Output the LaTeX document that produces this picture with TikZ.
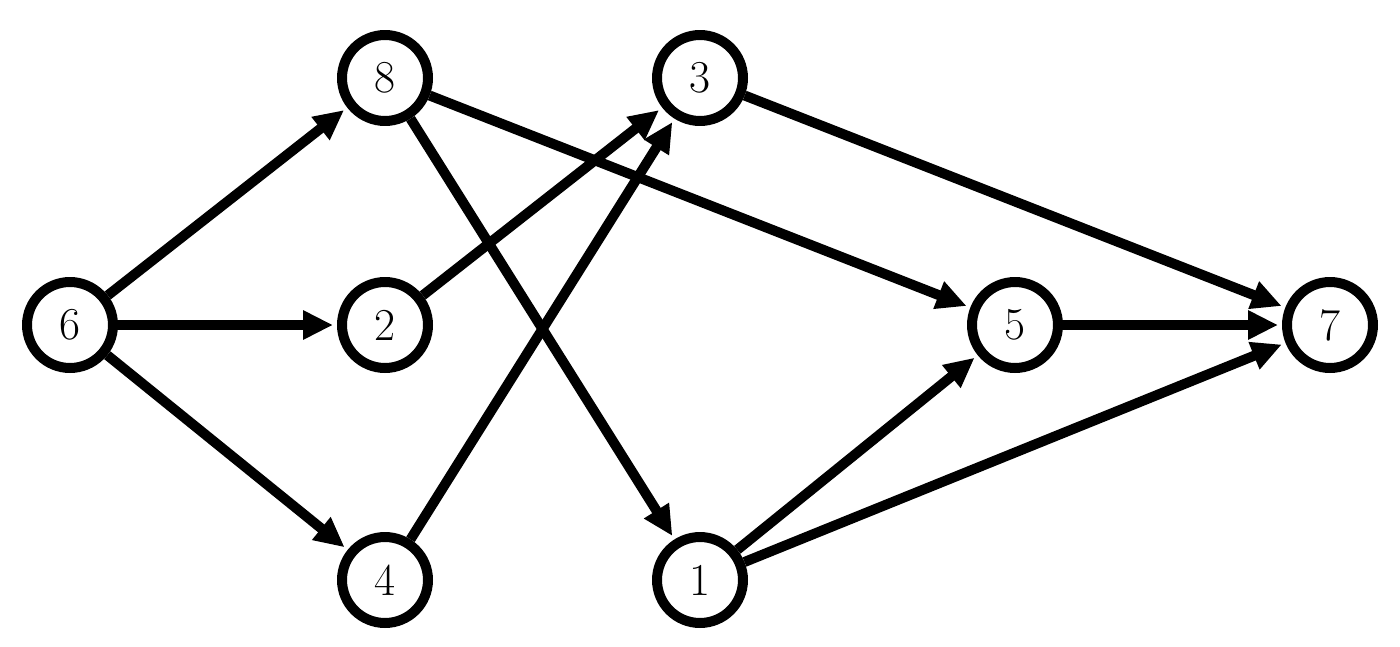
\documentclass[tikz,border=0pt]{standalone}
\usetikzlibrary{arrows.meta}
\begin{document}
\begin{tikzpicture}[x=0.02cm,y=-0.02cm,
  v/.style={circle,draw,line width=0.2cm,minimum size=1.72cm,inner sep=0pt,font=\fontsize{26}{30}\selectfont},
  e/.style={line width=0.2cm,-{Triangle[length=0.6cm,width=0.55cm]},shorten >=0.08cm}]
\useasboundingbox (0,0) rectangle (1400,646);
\node[v] (n6) at (70,325) {6};
\node[v] (n8) at (385,78) {8};
\node[v] (n2) at (385,325) {2};
\node[v] (n4) at (385,580) {4};
\node[v] (n3) at (700,78) {3};
\node[v] (n1) at (700,580) {1};
\node[v] (n5) at (1015,325) {5};
\node[v] (n7) at (1330,325) {7};
\draw[e] (n6) -- (n8);
\draw[e] (n6) -- (n2);
\draw[e] (n6) -- (n4);
\draw[e] (n8) -- (n5);
\draw[e] (n8) -- (n1);
\draw[e] (n2) -- (n3);
\draw[e] (n4) -- (n3);
\draw[e] (n3) -- (n7);
\draw[e] (n1) -- (n5);
\draw[e] (n1) -- (n7);
\draw[e] (n5) -- (n7);
\end{tikzpicture}
\end{document}
